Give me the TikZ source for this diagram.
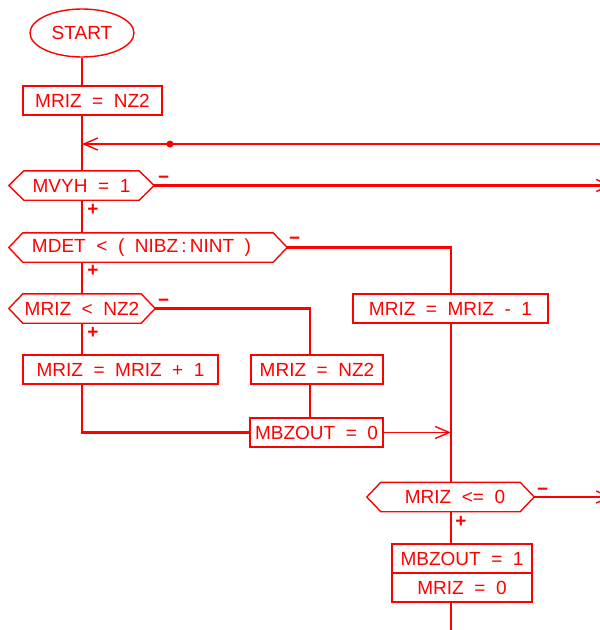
\documentclass[tikz,border=0pt]{standalone}
\usepackage{fontspec}
\setmainfont[WordSpace=2]{Liberation Sans}
\usetikzlibrary{arrows.meta,shapes.geometric}
\definecolor{fc}{RGB}{255,0,0}
\newcommand\hexdraw[2]{\draw[hexline] (#1.west) -- ([xshift=#2]#1.north west) -- ([xshift=-#2]#1.north east) -- (#1.east) -- ([xshift=-#2]#1.south east) -- ([xshift=#2]#1.south west) -- cycle;}
\begin{document}
\begin{tikzpicture}[x=1pt,y=-1pt,
  every node/.style={font=\fontsize{19}{22}\selectfont, text=fc, inner sep=0pt},
  box/.style={draw=fc, line width=2.3pt, minimum height=29pt},
  hexn/.style={minimum height=29pt},
  hexline/.style={draw=fc, line width=1.4pt},
  conn/.style={draw=fc, line width=2.3pt},
  thinconn/.style={draw=fc, line width=1.4pt},
  arr/.style={-{Straight Barb[length=14pt,width=12pt,line width=1.4pt]}},
  sign/.style={font=\fontsize{19}{19}\selectfont\bfseries, text=fc, inner sep=0pt}]
\useasboundingbox (0,0) rectangle (600,630);
\fill[white] (0,0) rectangle (600,630);
% nodes
\node[draw=fc, ellipse, line width=1.4pt, minimum width=104pt, minimum height=48pt] (start) at (82,33) {START};
\node[box, minimum width=139pt] (b1) at (92.5,100.5) {MRIZ = NZ2};
\node[hexn, minimum width=145pt] (h1) at (81.5,185.5) {MVYH = 1};
\node[hexn, minimum width=278pt] (h2) at (148,247.5) {MDET < ( NIBZ\,:\,NINT )\hspace*{13pt}};
\node[hexn, minimum width=146pt] (h3) at (82,308.5) {MRIZ < NZ2};
\node[box, minimum width=195pt] (b2) at (450.5,308.5) {MRIZ = MRIZ - 1};
\node[box, minimum width=195pt] (b3) at (120.5,369.5) {MRIZ = MRIZ + 1};
\node[box, minimum width=132pt] (b4) at (317,369.5) {MRIZ = NZ2};
\node[box, minimum width=133pt] (b5) at (316.5,432.5) {MBZOUT = 0};
\node[hexn, minimum width=167pt] (h4) at (450.5,497) {\hspace*{9pt}MRIZ <= 0};
\node[box, minimum width=140pt] (b6a) at (462,558.5) {MBZOUT = 1};
\node[box, minimum width=140pt] (b6b) at (462,587.5) {MRIZ = 0};
\hexdraw{h1}{15pt}
\hexdraw{h2}{14pt}
\hexdraw{h3}{14pt}
\hexdraw{h4}{14pt}
% signs
\node[sign, anchor=west] (m1) at (158,180) {−};
\node[sign] (p1) at (93,210) {+};
\node[sign, anchor=west] (m2) at (289,241) {−};
\node[sign] (p2) at (93,271) {+};
\node[sign, anchor=west] (m3) at (158,303) {−};
\node[sign] (p3) at (93,333) {+};
\node[sign, anchor=west] (m4) at (537,492) {−};
\node[sign] (p4) at (461,522) {+};
% coordinates
\coordinate (c451) at (451,0);
\coordinate (c310) at (310,0);
\coordinate (rin) at (612,144);
\coordinate (dot) at (170,144);
\coordinate (r1) at (612,185.5);
\coordinate (r4) at (612,497);
\coordinate (bot) at (451,640);
% connectors
\draw[conn] (start.south) -- (start.south |- b1.north);
\draw[conn] (start.south |- b1.south) -- (start.south |- h1.north);
\draw[conn, arr] (rin) -- (rin -| start.south);
\fill[fc] (dot) circle (3.5pt);
\draw[conn, arr] (h1.east) -- (r1);
\draw[conn] (start.south |- h1.south) -- (start.south |- h2.north);
\draw[conn] (h2.east) -| (c451 |- b2.north);
\draw[conn] (start.south |- h2.south) -- (start.south |- h3.north);
\draw[conn] (h3.east) -| (c310 |- b4.north);
\draw[conn] (start.south |- h3.south) -- (start.south |- b3.north);
\draw[conn] (c310 |- b4.south) -- (c310 |- b5.north);
\draw[conn] (start.south |- b3.south) |- (b5.west);
\draw[thinconn, arr] (b5.east) -- (c451 |- b5.east);
\draw[conn] (c451 |- b2.south) -- (c451 |- h4.north);
\draw[conn, arr] (h4.east) -- (r4);
\draw[conn] (c451 |- h4.south) -- (c451 |- b6a.north);
\draw[conn] (c451 |- b6b.south) -- (bot);
\end{tikzpicture}
\end{document}
